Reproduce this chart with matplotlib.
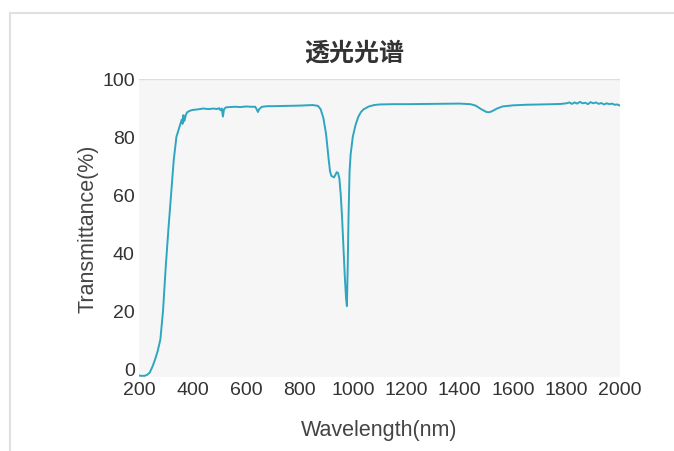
import matplotlib
matplotlib.use("Agg")
import matplotlib.pyplot as plt
from matplotlib.lines import Line2D

# 波长 (nm) 与透过率 (%)
wavelength = [200, 210, 220, 230, 240, 250, 260, 270, 280, 290, 300, 310, 320, 330, 340,
              350, 355, 360, 363, 366, 370, 375, 380, 390, 400, 420, 440, 460, 480, 490,
              500, 505, 510, 514, 518, 525, 540, 560, 580, 600, 620, 635, 640, 645, 650,
              660, 680, 700, 750, 800, 850, 870, 880, 890, 900, 910, 915, 920, 930, 940,
              945, 950, 955, 960, 965, 970, 975, 978, 981, 984, 988, 992, 1000, 1010, 1020,
              1030, 1040, 1060, 1080, 1100, 1150, 1200, 1300, 1400, 1440, 1460, 1480, 1500,
              1510, 1520, 1540, 1560, 1600, 1650, 1700, 1750, 1780, 1800, 1810, 1820, 1830,
              1840, 1850, 1860, 1870, 1880, 1890, 1900, 1910, 1920, 1930, 1940, 1950, 1960,
              1970, 1980, 1990, 2000]
transmittance = [-2.5, -2.6, -2.6, -2.3, -1.5, 0.5, 3, 6, 10, 20, 35, 48, 60, 72, 80,
                 83, 84.5, 86, 84.5, 87.5, 85.5, 87.5, 88.5, 89, 89.3, 89.5, 89.8, 89.6, 89.8, 89.6,
                 89.9, 89.2, 89.8, 87, 89.5, 90.2, 90.3, 90.4, 90.3, 90.5, 90.4, 90.4, 89.6, 88.6, 89.6,
                 90.4, 90.6, 90.6, 90.7, 90.8, 91.0, 90.7, 89.5, 86.5, 81, 72, 68, 66.5, 66, 67.8,
                 67.5, 65.5, 60, 52, 42, 32, 24, 21.5, 35, 52, 68, 74, 80, 84, 86.8,
                 88.5, 89.5, 90.5, 91, 91.2, 91.3, 91.3, 91.4, 91.5, 91.3, 90.8, 89.6, 88.6,
                 88.5, 88.8, 89.8, 90.5, 90.9, 91.1, 91.2, 91.3, 91.4, 91.6, 91.9, 91.4, 91.9,
                 91.5, 92.1, 91.6, 91.8, 91.3, 92.0, 91.6, 91.9, 91.4, 91.7, 91.2, 91.6, 91.3,
                 91.5, 91.1, 91.2, 90.8]
xticks = [200, 400, 600, 800, 1000, 1200, 1400, 1600, 1800, 2000]
yticks = [0, 20, 40, 60, 80, 100]

fonts = ['Liberation Sans', 'Noto Sans CJK SC', 'DejaVu Sans']
plt.rcParams['font.family'] = fonts

fig = plt.figure(figsize=(6.74, 4.52), dpi=100)
ax = fig.add_axes([139 / 674, 1 - 378 / 452, 481 / 674, 298 / 452])

# 卡片边框
fig.add_artist(Line2D([10 / 674, 1], [1 - 14 / 452, 1 - 14 / 452], color='#e0e0e0', lw=1.5))
fig.add_artist(Line2D([10 / 674, 10 / 674], [0, 1 - 14 / 452], color='#e0e0e0', lw=1.5))

ax.set_facecolor('#f6f6f6')
ax.plot(wavelength, transmittance, color='#2ea6bf', lw=1.4)
ax.set_xlim(200, 2000)
ax.set_ylim(-3, 100)
ax.set_xticks(xticks)
ax.set_yticks(yticks)
ax.tick_params(length=0, labelsize=14, labelcolor='#333333', pad=3)
for s in ax.spines.values():
    s.set_visible(False)
ax.axhline(100, color='#dddddd', lw=1)

ax.set_xlabel('Wavelength(nm)', fontsize=15.5, color='#444444', labelpad=15)
ax.set_ylabel('Transmittance(%)', fontsize=15.5, color='#444444', labelpad=3)
fig.text(354 / 674, 1 - 53 / 452, '透光光谱', ha='center', va='center',
         fontsize=18, fontweight='bold', color='#333333',
         family=['Noto Sans CJK SC', 'DejaVu Sans'])

fig.savefig('out.png', dpi=100)
